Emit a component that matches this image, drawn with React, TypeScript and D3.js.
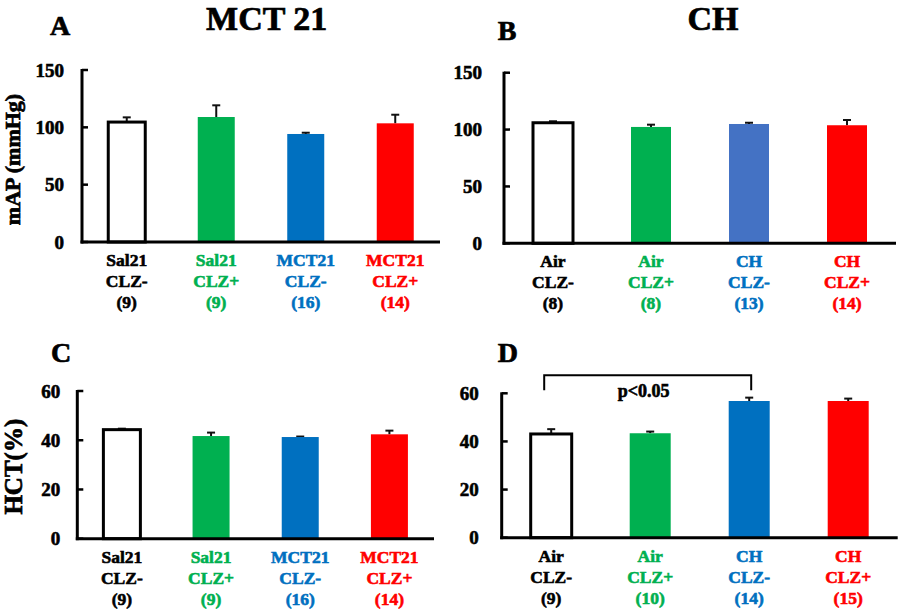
import React from "react";
import * as d3 from "d3";

// ---- data ----
const mctLine1 = ["Sal21", "Sal21", "MCT21", "MCT21"];
const chLine1 = ["Air", "Air", "CH", "CH"];
const clzLine = ["CLZ-", "CLZ+", "CLZ-", "CLZ+"];
const nA = ["(9)", "(9)", "(16)", "(14)"];
const nB = ["(8)", "(8)", "(13)", "(14)"];
const nC = ["(9)", "(9)", "(16)", "(14)"];
const nD = ["(9)", "(10)", "(14)", "(15)"];

const mapMCT = [104.6, 109, 94.2, 103.5];
const mapMCTErr = [4.1, 10.2, 1.1, 7.5];
const mapCH = [106, 102.3, 104.9, 103.8];
const mapCHErr = [1.3, 2.0, 1.1, 4.6];
const hctMCT = [44.3, 41.7, 41.3, 42.4];
const hctMCTErr = [0.4, 1.4, 0.2, 1.5];
const hctCH = [43.1, 43.4, 56.8, 56.8];
const hctCHErr = [2.0, 0.7, 1.4, 1.0];

const mapTicks = [0, 50, 100, 150];
const hctTicks = [0, 20, 40, 60];

const fillsStd = ["#FFFFFF", "#00B050", "#0070C0", "#FF0000"];
const fillsB = ["#FFFFFF", "#00B050", "#4472C4", "#FF0000"];
const labelColors = ["#000000", "#00B050", "#0070C0", "#FF0000"];

const FONT = "'Liberation Serif', 'Times New Roman', serif";

type PanelProps = {
  x0: number; x1: number; y0: number; y1: number;
  max: number; ticks: number[]; values: number[]; errs: number[];
  line1: string[]; ns: string[]; fills: string[];
  barW: number; labelOff: number;
  bracket?: { from: number; to: number; text: string };
};

function Panel(p: PanelProps) {
  const x = d3.scaleBand<number>()
    .domain(d3.range(p.values.length))
    .range([p.x0, p.x1]);
  const step = x.step();
  const inner = 1 - p.barW / step;
  x.paddingInner(inner).paddingOuter(inner / 2);
  const y = d3.scaleLinear().domain([0, p.max]).range([p.y1, p.y0]);
  const cx = (i: number) => (x(i) as number) + x.bandwidth() / 2;
  return (
    <g>
      {p.values.map((v, i) => (
        <g key={i}>
          <line x1={cx(i)} x2={cx(i)} y1={y(v)} y2={y(v + p.errs[i])} stroke="#111" strokeWidth={2} />
          <line x1={cx(i) - 4} x2={cx(i) + 4} y1={y(v + p.errs[i])} y2={y(v + p.errs[i])} stroke="#111" strokeWidth={2} />
          <rect
            x={x(i) as number}
            y={y(v)}
            width={x.bandwidth()}
            height={y(0) - y(v)}
            fill={p.fills[i]}
            stroke={p.fills[i] === "#FFFFFF" ? "#000" : "none"}
            strokeWidth={3}
          />
        </g>
      ))}
      {p.ticks.map((t) => (
        <g key={t}>
          <line x1={p.x0} x2={p.x0 + 6} y1={y(t)} y2={y(t)} stroke="#000" strokeWidth={2.5} />
          <text x={p.x0 - p.labelOff} y={y(t)} dy="0.35em" textAnchor="end"
            fontFamily={FONT} fontWeight="bold" fontSize={19} fill="#000"
            stroke="#000" strokeWidth={0.6}>{t}</text>
        </g>
      ))}
      <line x1={p.x0} x2={p.x0} y1={y(p.max) - 1} y2={y(0) + 1.5} stroke="#000" strokeWidth={3} />
      <line x1={p.x0 - 1.5} x2={p.x1} y1={y(0)} y2={y(0)} stroke="#000" strokeWidth={3} />
      {p.values.map((_, i) => (
        <text key={"l" + i} textAnchor="middle" fontFamily={FONT} fontWeight="bold"
          fontSize={17.5} fill={labelColors[i]} stroke={labelColors[i]} strokeWidth={0.6}>
          <tspan x={cx(i)} y={y(0) + 24}>{p.line1[i]}</tspan>
          <tspan x={cx(i)} y={y(0) + 45}>{clzLine[i]}</tspan>
          <tspan x={cx(i)} y={y(0) + 66}>{p.ns[i]}</tspan>
        </text>
      ))}
      {p.bracket && (() => {
        const a = cx(p.bracket.from) - 7;
        const b = cx(p.bracket.to) + 2;
        const top = y(p.max) - 18;
        const bot = y(p.max) - 3;
        return (
          <g>
            <path d={`M${a},${bot}V${top}H${b}V${bot}`} fill="none" stroke="#000" strokeWidth={2} />
            <text x={(a + b) / 2 - 4} y={y(p.max) + 4} textAnchor="middle" fontFamily={FONT}
              fontWeight="bold" fontSize={18} fill="#000" stroke="#000" strokeWidth={0.6}>{p.bracket.text}</text>
          </g>
        );
      })()}
    </g>
  );
}

export default function App() {
  const heavy = { fontFamily: FONT, fontWeight: "bold" as const, fill: "#000", stroke: "#000", strokeWidth: 0.7 };
  return (
    <svg width={904} height={612} style={{ position: "absolute", left: 0, top: 0, background: "#fff" }}>
      <rect width={904} height={612} fill="#fff" />
      <text x={266.7} y={30} textAnchor="middle" fontSize={34} {...heavy}>MCT 21</text>
      <text x={713} y={30} textAnchor="middle" fontSize={34} {...heavy}>CH</text>
      <text x={50} y={35} fontSize={28} {...heavy}>A</text>
      <text x={497.7} y={40} fontSize={28} {...heavy}>B</text>
      <text x={51} y={361.7} fontSize={28} {...heavy}>C</text>
      <text x={497.7} y={361.7} fontSize={28} {...heavy}>D</text>
      <text transform="translate(20,159.5) rotate(-90)" textAnchor="middle" fontSize={22} {...heavy}>mAP (mmHg)</text>
      <text transform="translate(22,466.7) rotate(-90)" textAnchor="middle" fontSize={25} {...heavy}>HCT(%)</text>

      <Panel x0={82} x1={440} y0={70} y1={242} max={150} ticks={mapTicks}
        values={mapMCT} errs={mapMCTErr} line1={mctLine1} ns={nA} fills={fillsStd}
        barW={37} labelOff={18} />
      <Panel x0={504} x1={896} y0={72.7} y1={243.3} max={150} ticks={mapTicks}
        values={mapCH} errs={mapCHErr} line1={chLine1} ns={nB} fills={fillsB}
        barW={40} labelOff={22} />
      <Panel x0={77.3} x1={434} y0={391} y1={538.7} max={60} ticks={hctTicks}
        values={hctMCT} errs={hctMCTErr} line1={mctLine1} ns={nC} fills={fillsStd}
        barW={37} labelOff={17} />
      <Panel x0={501.7} x1={897.7} y0={393.3} y1={537.7} max={60} ticks={hctTicks}
        values={hctCH} errs={hctCHErr} line1={chLine1} ns={nD} fills={fillsStd}
        barW={41} labelOff={23} bracket={{ from: 0, to: 2, text: "p<0.05" }} />
    </svg>
  );
}
